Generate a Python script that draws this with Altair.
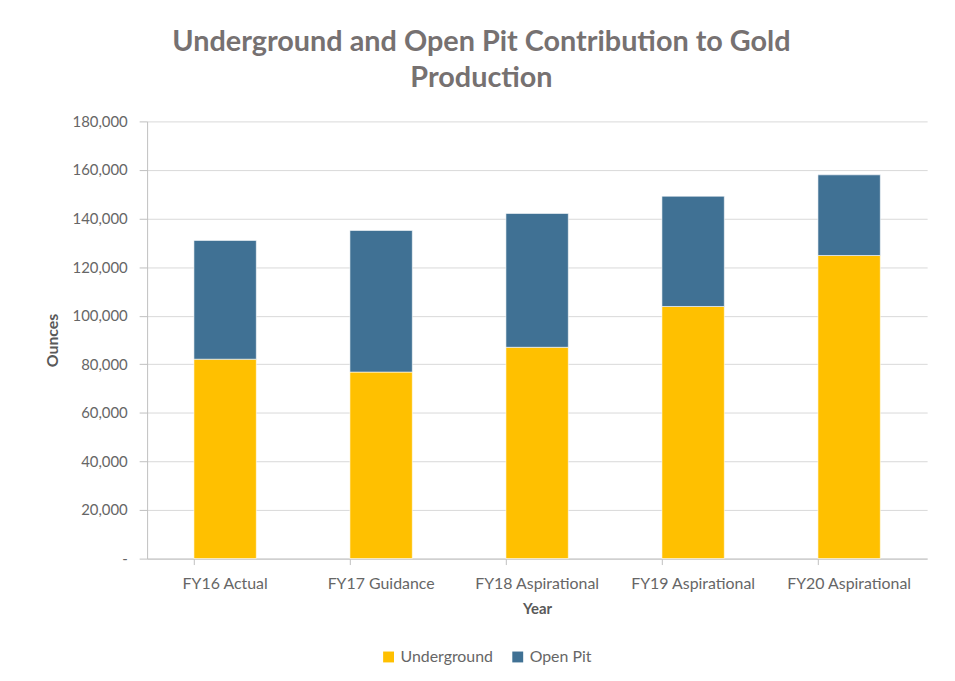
import altair as alt
import pandas as pd

years = ["FY16 Actual", "FY17 Guidance", "FY18 Aspirational", "FY19 Aspirational", "FY20 Aspirational"]
underground = [82100, 76800, 87000, 103800, 124800]
open_pit = [48900, 58300, 55100, 45400, 33200]
series = ["Underground", "Open Pit"]
colors = ["#FFC000", "#407194"]
y_ticks = [0, 20000, 40000, 60000, 80000, 100000, 120000, 140000, 160000, 180000]

rows = []
for i, yr in enumerate(years):
    rows.append({"Year": yr, "Series": series[0], "Ounces": underground[i], "order": 0})
    rows.append({"Year": yr, "Series": series[1], "Ounces": open_pit[i], "order": 1})
df = pd.DataFrame(rows)

FONT = "Lato"
LABEL = "#666666"

chart = alt.Chart(df).mark_bar(stroke="white", strokeWidth=0.6).encode(
    x=alt.X("Year:N", sort=years,
            scale=alt.Scale(paddingInner=0.6, paddingOuter=0.3),
            axis=alt.Axis(title="Year", labelAngle=0, bandPosition=0,
                          labelFontSize=16, labelPadding=11, tickSize=6,
                          titleFontSize=15, titlePadding=10)),
    y=alt.Y("Ounces:Q", stack="zero",
            scale=alt.Scale(domain=[0, 180000], nice=False),
            axis=alt.Axis(title="Ounces", values=y_ticks,
                          labelExpr="datum.value == 0 ? '-' : format(datum.value, ',')",
                          labelFontSize=15, labelPadding=12, tickSize=8,
                          titleFontSize=16, titlePadding=12)),
    color=alt.Color("Series:N", scale=alt.Scale(domain=series, range=colors),
                    legend=alt.Legend(title=None, orient="none", direction="horizontal",
                                      legendX=235, legendY=531, symbolType="square",
                                      symbolSize=120, symbolStrokeWidth=0,
                                      labelFontSize=16, labelColor=LABEL, labelFont=FONT,
                                      columnPadding=16, symbolOffset=0, labelOffset=4)),
    order=alt.Order("order:Q"),
    tooltip=["Year", "Series", "Ounces"],
).properties(
    width=785,
    height=440,
    autosize=alt.AutoSizeParams(type="none"),
    padding={"left": 140, "top": 112, "right": 20, "bottom": 112},
    title=alt.TitleParams(
        text=["Underground and Open Pit Contribution to Gold", "Production"],
        fontSize=29, font=FONT, fontWeight="bold", color="#767171",
        anchor="middle", frame="group", dx=-56, offset=22, lineHeight=36,
    ),
).configure_axis(
    labelFont=FONT, titleFont=FONT, labelColor=LABEL, titleColor="#595959",
    titleFontWeight="bold", domainColor="#bfbfbf", tickColor="#bfbfbf",
    gridColor="#d9d9d9", gridWidth=1,
).configure_axisX(grid=False).configure_view(stroke=None)

chart.save("out.html", embed_options={"renderer": "svg", "actions": False})
